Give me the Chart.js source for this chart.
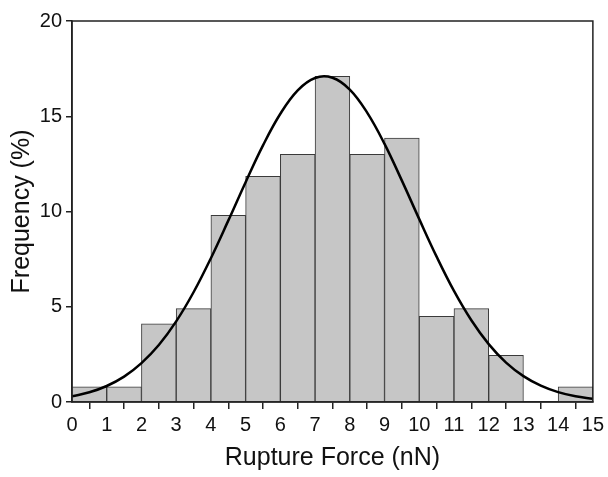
<!DOCTYPE html>
<html>
<head>
<meta charset="utf-8">
<script src="https://cdn.jsdelivr.net/npm/chart.js@4.4.0/dist/chart.umd.min.js"></script>
<style>
  html, body { margin: 0; padding: 0; background: #fff; }
  #wrap { width: 608px; height: 477px; position: relative; }
</style>
</head>
<body>
<div id="wrap"><canvas id="chart"></canvas></div>
<script>
// histogram bins (left edge, nN) and frequency (%)
const binStarts = [0, 1, 2, 3, 4, 5, 6, 7, 8, 9, 10, 11, 12, 13, 14];
const freq = [0.8, 0.8, 4.1, 4.9, 9.8, 11.85, 13.0, 17.1, 13.0, 13.85, 4.5, 4.9, 2.45, 0, 0.8];

// fitted curve
const curveX = [0, 0.5, 1, 1.5, 2, 2.5, 3, 3.5, 4, 4.5, 5, 5.5, 6, 6.5, 7, 7.5,
  8, 8.5, 9, 9.5, 10, 10.5, 11, 11.5, 12, 12.5, 13, 13.5, 14, 14.5, 15];
const curveY = [0.30, 0.51, 0.84, 1.33, 2.04, 2.99, 4.23, 5.76, 7.55, 9.52, 11.54, 13.47, 15.13, 16.36, 17.01, 17.02,
  16.40, 15.19, 13.55, 11.62, 9.60, 7.63, 5.83, 4.29, 3.04, 2.07, 1.36, 0.86, 0.52, 0.30, 0.17];

const yTicks = [0, 5, 10, 15, 20];

const ctx = document.querySelector("#chart").getContext("2d");
const FONT = "'Liberation Sans', Arial, sans-serif";

// frame around the plot area (top and right sides)
const boxPlugin = {
  id: 'box',
  afterDraw(chart) {
    const a = chart.chartArea;
    const c = chart.ctx;
    c.save();
    c.strokeStyle = '#222';
    c.lineWidth = 1.5;
    c.strokeRect(a.left, a.top, a.right - a.left, a.bottom - a.top);
    c.restore();
  }
};

new Chart(ctx, {
  type: 'bar',
  data: {
    datasets: [{
      type: 'line',
      data: curveX.map((x, i) => ({ x: x, y: curveY[i] })),
      borderColor: '#000',
      borderWidth: 2.5,
      pointRadius: 0,
      fill: false,
      tension: 0.4,
      order: 0
    }, {
      type: 'bar',
      data: binStarts.map((x, i) => ({ x: x + 0.5, y: freq[i] })),
      backgroundColor: '#c6c6c6',
      borderColor: '#3a3a3a',
      borderWidth: 1,
      barPercentage: 1,
      categoryPercentage: 1,
      order: 1
    }]
  },
  options: {
    responsive: true,
    maintainAspectRatio: false,
    animation: false,
    layout: { padding: { left: 0, right: 15, top: 21, bottom: 0 } },
    plugins: { legend: { display: false }, tooltip: { enabled: false } },
    scales: {
      x: {
        type: 'linear',
        min: 0,
        max: 15,
        offset: false,
        afterFit(scale) { scale.height = 75; },
        grid: { drawOnChartArea: false, drawTicks: true, tickLength: 7, color: '#222', lineWidth: 1.5 },
        border: { display: true, color: '#222', width: 1.5 },
        ticks: { stepSize: 1, color: '#111', font: { family: FONT, size: 20 }, padding: 4, maxRotation: 0 },
        title: { display: true, text: 'Rupture Force (nN)', color: '#111', font: { family: FONT, size: 25 }, padding: { top: 0, bottom: 4 } }
      },
      y: {
        min: 0,
        max: 20,
        afterBuildTicks(scale) { scale.ticks = yTicks.map(v => ({ value: v })); },
        afterFit(scale) { scale.width = 72; },
        grid: { drawOnChartArea: false, drawTicks: true, tickLength: 6, color: '#222', lineWidth: 1.5 },
        border: { display: true, color: '#222', width: 1.5 },
        ticks: { color: '#111', font: { family: FONT, size: 20 }, padding: 4 },
        title: { display: true, text: 'Frequency (%)', color: '#111', font: { family: FONT, size: 25 }, padding: { top: 7, bottom: 0 } }
      }
    }
  },
  plugins: [boxPlugin]
});
</script>
</body>
</html>
